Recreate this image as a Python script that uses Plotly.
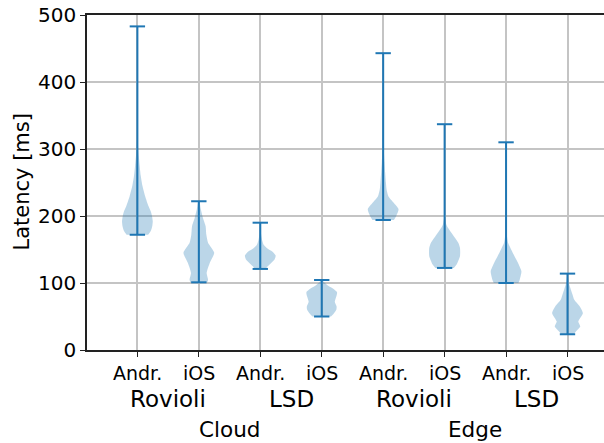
import plotly.graph_objects as go

# ---------------- data ----------------
positions = [1, 2, 3, 4, 5, 6, 7, 8]
platform_labels = ["Andr.", "iOS", "Andr.", "iOS", "Andr.", "iOS", "Andr.", "iOS"]
system_labels = ["Rovioli", "LSD", "Rovioli", "LSD"]
deploy_labels = ["Cloud", "Edge"]

lat_min = [172, 101, 121, 50, 194, 122.5, 100, 23.5]
lat_max = [483, 222, 190, 104.5, 443, 337, 310, 114]

# density profiles (latency level, relative density 0..1)
cr_andr_lv = [172, 178, 185, 192, 200, 207, 215, 230, 245, 260, 275, 290, 305, 320, 483]
cr_andr_d = [0.70, 0.88, 0.97, 1.0, 0.95, 0.87, 0.72, 0.50, 0.33, 0.22, 0.15, 0.09, 0.04, 0.01, 0.0]
cr_ios_lv = [101, 105, 115, 130, 145, 160, 172, 185, 197, 210, 222]
cr_ios_d = [0.55, 0.60, 0.51, 0.71, 1.0, 0.60, 0.49, 0.44, 0.27, 0.13, 0.03]
cl_andr_lv = [121, 125, 130, 135, 141, 147, 152, 157, 165, 175, 190]
cl_andr_d = [0.35, 0.48, 0.71, 0.93, 1.0, 0.78, 0.44, 0.22, 0.11, 0.04, 0.01]
cl_ios_lv = [50, 55, 60, 65, 72, 80, 86, 92, 97, 101, 104.5]
cl_ios_d = [0.60, 0.80, 0.95, 0.97, 0.85, 0.95, 1.0, 0.70, 0.35, 0.15, 0.05]
er_andr_lv = [194, 200, 210, 220, 230, 240, 250, 265, 280, 295, 310, 443]
er_andr_d = [0.70, 0.85, 1.0, 0.67, 0.33, 0.22, 0.18, 0.13, 0.09, 0.05, 0.02, 0.0]
er_ios_lv = [122.5, 127.5, 140, 152.5, 160, 167.5, 175, 182.5, 187.5, 200, 337]
er_ios_d = [0.60, 0.78, 1.0, 1.0, 0.89, 0.67, 0.44, 0.22, 0.11, 0.02, 0.0]
el_andr_lv = [100, 105, 117.5, 130, 140, 150, 160, 170, 185, 310]
el_andr_d = [0.80, 0.89, 1.0, 0.78, 0.55, 0.33, 0.13, 0.06, 0.01, 0.0]
el_ios_lv = [23.5, 27.5, 35, 42.5, 55, 65, 75, 82.5, 90, 100, 112, 114]
el_ios_d = [0.40, 0.55, 0.83, 0.70, 1.0, 0.80, 0.44, 0.33, 0.22, 0.09, 0.02, 0.01]

profiles = [
    (cr_andr_lv, cr_andr_d), (cr_ios_lv, cr_ios_d),
    (cl_andr_lv, cl_andr_d), (cl_ios_lv, cl_ios_d),
    (er_andr_lv, er_andr_d), (er_ios_lv, er_ios_d),
    (el_andr_lv, el_andr_d), (el_ios_lv, el_ios_d),
]

# ---------------- figure ----------------
BLUE = "#1f77b4"
FILL = "rgba(31,119,180,0.3)"
HALF = 0.25   # max half-width of a violin body (matplotlib widths=0.5)
CAP = 0.125   # half-length of the min/max caps
GRID = "#c4c4c4"
SPINE = "#222222"

fig = go.Figure()

for pos, (lv, d) in zip(positions, profiles):
    xs = [pos + HALF * v for v in d] + [pos - HALF * v for v in reversed(d)]
    ys = list(lv) + list(reversed(lv))
    fig.add_trace(go.Scatter(
        x=xs, y=ys, mode="lines", fill="toself", fillcolor=FILL,
        line=dict(width=0, color=FILL, shape="spline", smoothing=0.6),
        hoverinfo="skip", showlegend=False))

lx, ly = [], []
for pos, lo, hi in zip(positions, lat_min, lat_max):
    lx += [pos, pos, None, pos - CAP, pos + CAP, None, pos - CAP, pos + CAP, None]
    ly += [lo, hi, None, lo, lo, None, hi, hi, None]
fig.add_trace(go.Scatter(x=lx, y=ly, mode="lines",
                         line=dict(color=BLUE, width=2),
                         hoverinfo="skip", showlegend=False))

L, T, W, H = 87, 15, 604, 443
B = 350
plot_h = B - T


def px_y(py):
    return (B - py) / plot_h


annots = []
# platform labels sit under each tick
for lab, p in zip(platform_labels, positions):
    annots.append(dict(text=lab, x=p, y=px_y(373), xref="x", yref="paper",
                       xanchor="center", yanchor="middle", showarrow=False,
                       font=dict(size=19, color="black")))
# system labels centred under each pair of ticks
for i, lab in enumerate(system_labels):
    xc = (positions[2 * i] + positions[2 * i + 1]) / 2
    annots.append(dict(text=lab, x=xc, y=px_y(399), xref="x", yref="paper",
                       xanchor="center", yanchor="middle", showarrow=False,
                       font=dict(size=23, color="black")))
# deployment labels centred under each group of four ticks
for i, lab in enumerate(deploy_labels):
    xc = (positions[4 * i] + positions[4 * i + 3]) / 2
    annots.append(dict(text=lab, x=xc, y=px_y(429), xref="x", yref="paper",
                       xanchor="center", yanchor="middle", showarrow=False,
                       font=dict(size=21.5, color="black")))
annots.append(dict(text="Latency [ms]", x=0, xshift=-66, y=0.5, xref="paper", yref="paper",
                   xanchor="center", yanchor="middle", textangle=-90, showarrow=False,
                   font=dict(size=21, color="black")))

fig.update_layout(
    width=W, height=H,
    margin=dict(l=L, r=0, t=T, b=H - B, pad=0),
    paper_bgcolor="white", plot_bgcolor="white",
    font=dict(family="DejaVu Sans", color="black"),
    showlegend=False,
    annotations=annots,
    xaxis=dict(range=[0.18, 8.594], tickvals=positions, ticktext=[""] * len(positions),
               ticks="outside", ticklen=5, tickcolor=SPINE, tickwidth=1.3,
               showgrid=True, gridcolor=GRID, gridwidth=1.5,
               showline=True, linecolor=SPINE, linewidth=1.5, mirror=True,
               zeroline=False),
    yaxis=dict(range=[0, 500], tickvals=[0, 100, 200, 300, 400, 500],
               ticks="outside", ticklen=5, tickcolor=SPINE, tickwidth=1.3,
               tickfont=dict(size=20),
               showgrid=True, gridcolor=GRID, gridwidth=1.5,
               showline=True, linecolor=SPINE, linewidth=1.5, mirror=False,
               zeroline=False),
)

fig.write_html("out.html")
